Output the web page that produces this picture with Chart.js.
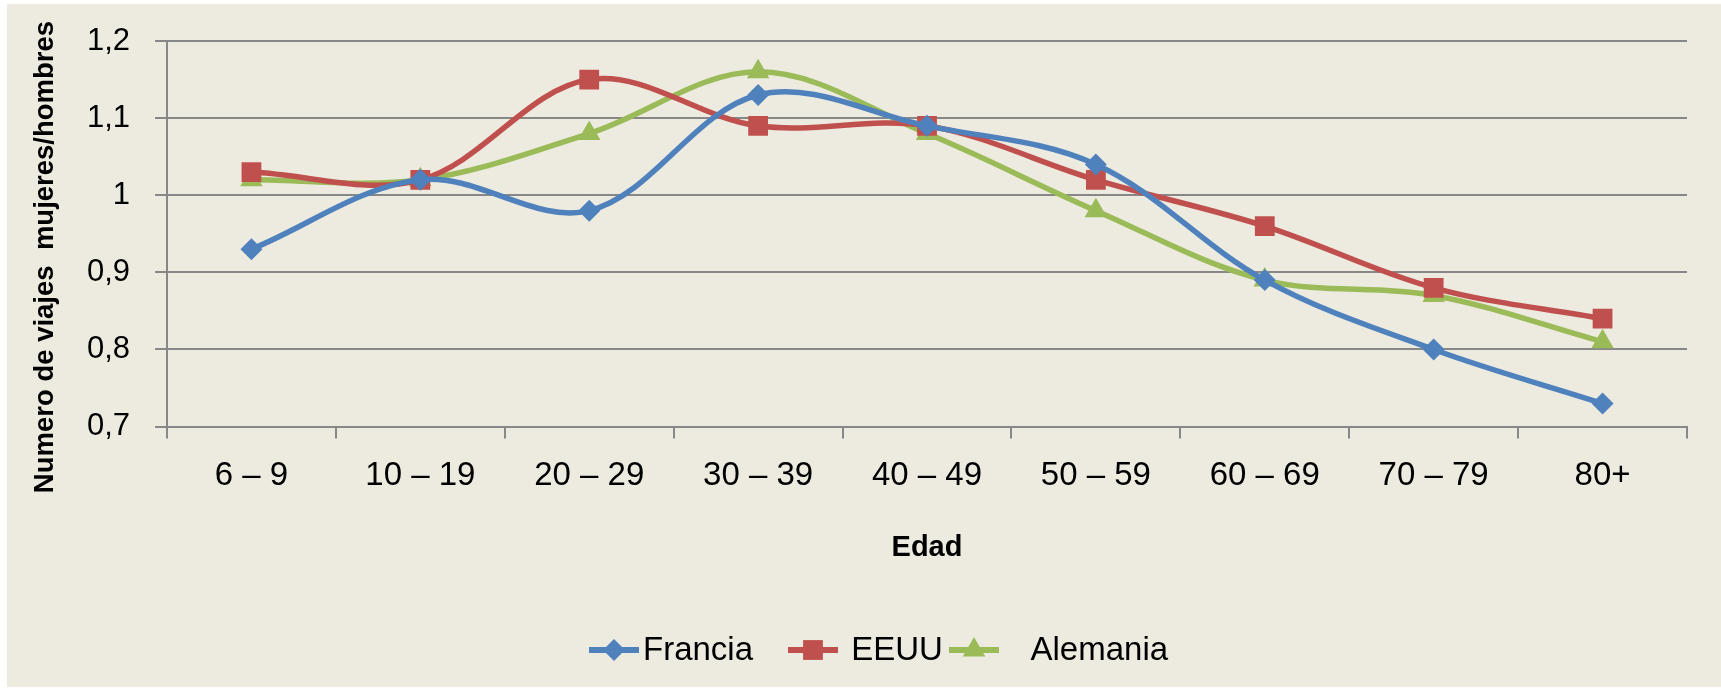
<!DOCTYPE html>
<html>
<head>
<meta charset="utf-8">
<script src="https://cdn.jsdelivr.net/npm/chart.js@4.4.1/dist/chart.umd.min.js"></script>
<style>
  html, body { margin: 0; padding: 0; background: #ffffff; }
  #wrap { width: 1721px; height: 691px; }
</style>
</head>
<body>
<div id="wrap"><canvas id="chart" width="1721" height="691"></canvas></div>
<script>
// age groups on the x axis
const ageGroups = ['6 – 9', '10 – 19', '20 – 29', '30 – 39', '40 – 49', '50 – 59', '60 – 69', '70 – 79', '80+'];

// ratio of trips women / men
const francia  = [0.93, 1.02, 0.98, 1.13, 1.09, 1.04, 0.89, 0.80, 0.73];
const eeuu     = [1.03, 1.02, 1.15, 1.09, 1.09, 1.02, 0.96, 0.88, 0.84];
const alemania = [1.02, 1.02, 1.08, 1.16, 1.08, 0.98, 0.89, 0.87, 0.81];

// y axis tick labels, bottom to top
const yTickLabels = ['0,7', '0,8', '0,9', '1', '1,1', '1,2'];

const FONT = '"Liberation Sans", Arial, sans-serif';
const GRID = '#878787';

// fill the grey-beige chart background
const backgroundPlugin = {
    id: 'bg',
    beforeDraw(chart) {
        const ctx = chart.ctx;
        ctx.save();
        ctx.fillStyle = '#edebe0';
        ctx.fillRect(7, 4, chart.width - 7, chart.height - 8);
        ctx.restore();
    }
};

// y title sits a bit lower than the plot centre, like in the Excel original
const yTitlePlugin = {
    id: 'yTitle',
    afterDraw(chart) {
        const ctx = chart.ctx;
        ctx.save();
        ctx.translate(45, 257);
        ctx.rotate(-Math.PI / 2);
        ctx.font = 'bold 27.5px ' + FONT;
        ctx.fillStyle = '#000000';
        ctx.textAlign = 'center';
        ctx.textBaseline = 'middle';
        ctx.fillText('Numero de viajes  mujeres/hombres', 0, 0);
        ctx.restore();
    }
};

// Excel style legend: a short line with the marker in the middle
const lineLegendPlugin = {
    id: 'lineLegend',
    afterDraw(chart) {
        const ctx = chart.ctx;
        const y = 650;
        const starts = [589, 788, 949];
        ctx.save();
        ctx.font = '33px ' + FONT;
        ctx.textBaseline = 'middle';
        chart.data.datasets.forEach((ds, i) => {
            const x = starts[i];
            ctx.strokeStyle = ds.borderColor;
            ctx.lineWidth = 6;
            ctx.beginPath();
            ctx.moveTo(x, y);
            ctx.lineTo(x + 50, y);
            ctx.stroke();
            ctx.fillStyle = ds.pointBackgroundColor;
            ctx.strokeStyle = ds.pointBorderColor;
            Chart.helpers.drawPoint(ctx, {
                pointStyle: ds.pointStyle,
                radius: ds.pointRadius,
                rotation: 0,
                borderWidth: 0
            }, x + 25, y);
            ctx.fillStyle = '#000000';
            ctx.fillText(ds.label, x + 54, y + 1);
        });
        ctx.restore();
    }
};

function series(label, data, color, style, radius) {
    return {
        label: label,
        data: data,
        borderColor: color,
        backgroundColor: color,
        pointBackgroundColor: color,
        pointBorderColor: color,
        pointStyle: style,
        pointRadius: radius,
        pointHoverRadius: radius,
        pointBorderWidth: 0,
        borderWidth: 5.5,
        tension: 0.35,
        fill: false
    };
}

new Chart(document.getElementById('chart'), {
    type: 'line',
    data: {
        labels: ageGroups,
        datasets: [
            series('Francia', francia, '#4f81bd', 'rectRot', 11),
            series(' EEUU', eeuu, '#c0504d', 'rect', 14),
            series('   Alemania', alemania, '#9bbb59', 'triangle', 13)
        ]
    },
    options: {
        responsive: false,
        animation: false,
        layout: { padding: { left: 7, right: 34, top: 41, bottom: 116 } },
        plugins: {
            legend: { display: false },
            tooltip: { enabled: false }
        },
        scales: {
            x: {
                offset: true,
                grid: {
                    offset: true,
                    drawOnChartArea: false,
                    drawTicks: true,
                    tickLength: 12,
                    color: GRID,
                    lineWidth: 2
                },
                border: { display: true, color: GRID, width: 2 },
                ticks: {
                    color: '#000000',
                    padding: 18,
                    maxRotation: 0,
                    font: { family: FONT, size: 33 }
                },
                title: {
                    display: true,
                    text: 'Edad',
                    color: '#000000',
                    padding: { top: 16, bottom: 10 },
                    font: { family: FONT, size: 29, weight: 'bold' }
                }
            },
            y: {
                min: 0.7,
                max: 1.2,
                afterFit(scale) {
                    scale.width = 160;
                    // tick padding would otherwise push the plot top down
                    scale.paddingTop = 0;
                    scale.paddingBottom = 0;
                },
                afterBuildTicks(scale) {
                    scale.ticks = yTickLabels.map((t, i) => ({ value: 0.7 + i * 0.1 }));
                },
                grid: {
                    tickLength: 12,
                    color: GRID,
                    lineWidth: 2
                },
                border: { display: true, color: GRID, width: 2 },
                ticks: {
                    color: '#000000',
                    padding: 25,
                    font: { family: FONT, size: 31 },
                    callback: (v, i) => yTickLabels[i]
                }
            }
        }
    },
    plugins: [backgroundPlugin, yTitlePlugin, lineLegendPlugin]
});
</script>
</body>
</html>
